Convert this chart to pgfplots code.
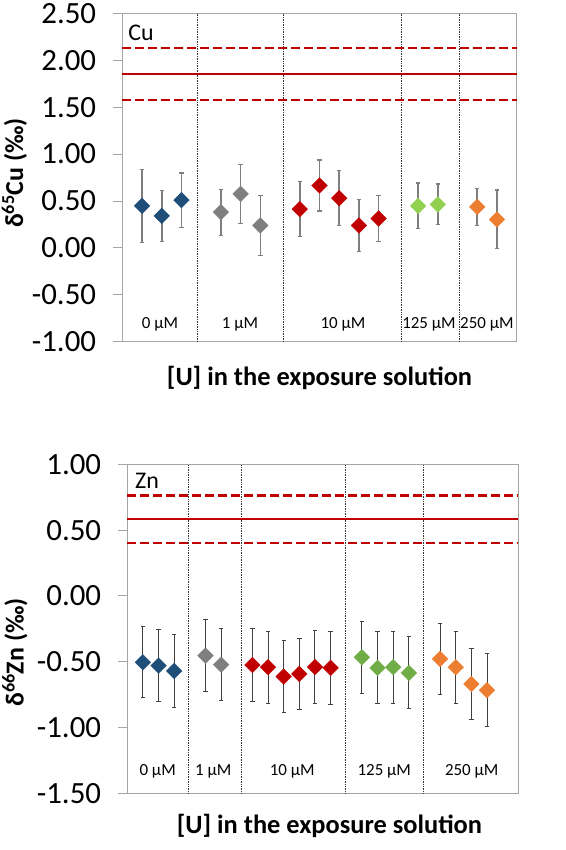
\documentclass[border=0pt]{standalone}
\usepackage{fontspec}
\setmainfont{Carlito}
\usepackage{pgfplots}
\pgfplotsset{compat=1.18}
\usepackage{pgfplotstable}
\definecolor{cblue}{HTML}{1F4E79}
\definecolor{cgray}{HTML}{7F7F7F}
\definecolor{cred}{HTML}{C00000}
\definecolor{cgreenA}{HTML}{92D050}
\definecolor{cgreenB}{HTML}{70AD47}
\definecolor{corange}{HTML}{ED7D31}
\definecolor{axgray}{HTML}{A6A6A6}
\definecolor{refred}{HTML}{C00000}

\pgfplotstableread{
x y e
1 0.448 0.390
2 0.341 0.270
3 0.509 0.290
}\cuA
\pgfplotstableread{
x y e
5 0.381 0.245
6 0.576 0.316
7 0.239 0.316
}\cuB
\pgfplotstableread{
x y e
9 0.413 0.293
10 0.665 0.272
11 0.530 0.295
12 0.239 0.279
13 0.313 0.245
}\cuC
\pgfplotstableread{
x y e
15 0.448 0.243
16 0.463 0.217
}\cuD
\pgfplotstableread{
x y e
18 0.437 0.199
19 0.303 0.313
}\cuE

\pgfplotstableread{
x y e
1 -0.505 0.270
2 -0.530 0.272
3 -0.570 0.275
}\znA
\pgfplotstableread{
x y e
5 -0.454 0.273
6 -0.522 0.272
}\znB
\pgfplotstableread{
x y e
8 -0.525 0.275
9 -0.542 0.275
10 -0.613 0.274
11 -0.593 0.272
12 -0.540 0.274
13 -0.547 0.279
}\znC
\pgfplotstableread{
x y e
15 -0.466 0.273
16 -0.547 0.274
17 -0.542 0.273
18 -0.585 0.273
}\znD
\pgfplotstableread{
x y e
20 -0.479 0.271
21 -0.542 0.272
22 -0.669 0.271
23 -0.717 0.277
}\znE

\tikzset{catlab/.style={font=\fontsize{17}{17}\selectfont, anchor=center},
  ylab/.style={font=\fontsize{26}{26}\selectfont\bfseries, rotate=90, anchor=center, inner sep=0pt}}
\pgfplotsset{
  panel/.style={
    anchor=south west, scale only axis,
    xtick=\empty, ytick pos=left, tick align=outside,
    major tick length=9bp,
    axis line style={draw=axgray, line width=0.9bp},
    every tick/.style={draw=axgray, line width=0.9bp},
    yticklabel style={font=\fontsize{31}{31}\selectfont, anchor=east, inner sep=0pt, xshift=-17bp},
    xlabel style={font=\fontsize{26.5}{26.5}\selectfont\bfseries, at={(axis description cs:0.5,0)}, anchor=center},
    clip=false,
  },
  pts/.style={only marks, mark=square*, mark size=5.6bp,
    mark options={rotate=45, fill=#1, draw=#1, line width=0.2bp},
    error bars/y dir=both, error bars/y explicit},
  errtop/.style={error bars/error bar style={draw=cgray, line width=1.6bp},
    error bars/error mark options={rotate=90, draw=cgray, mark size=2.2bp, line width=1.2bp}},
  errbot/.style={error bars/error bar style={draw=black!75, line width=1bp},
    error bars/error mark options={rotate=90, draw=black!75, mark size=2.2bp, line width=1bp}},
  sep/.style={densely dotted, black!80, line width=0.7bp},
}

\begin{document}
\begin{tikzpicture}
\useasboundingbox (0,0) rectangle (566bp,-850bp);

% ---------------- Cu panel ----------------
\begin{axis}[panel,
  at={(122.3bp,-341.7bp)}, width=394.4bp, height=328.4bp,
  xmin=0, xmax=20, ymin=-1, ymax=2.5,
  ytick={-1,-0.5,0,0.5,1,1.5,2,2.5},
  yticklabels={-1.00,-0.50,0.00,0.50,1.00,1.50,2.00,2.50},
  xlabel={[U] in the exposure solution},
  xlabel style={yshift=-36bp},
]
\addplot[sep] coordinates {(3.80,-1) (3.80,2.5)};
\addplot[sep] coordinates {(8.18,-1) (8.18,2.5)};
\addplot[sep] coordinates {(14.13,-1) (14.13,2.5)};
\addplot[sep] coordinates {(17.09,-1) (17.09,2.5)};
\addplot[refred, line width=2.6bp, dash pattern=on 9bp off 4bp] coordinates {(0,2.13) (20,2.13)};
\addplot[refred, line width=2.6bp, dash pattern=on 9bp off 4bp] coordinates {(0,1.575) (20,1.575)};
\addplot[refred, line width=2bp] coordinates {(0,1.855) (20,1.855)};
\addplot[pts=cblue, errtop] table[x=x, y=y, y error=e] {\cuA};
\addplot[pts=cgray, errtop] table[x=x, y=y, y error=e] {\cuB};
\addplot[pts=cred, errtop] table[x=x, y=y, y error=e] {\cuC};
\addplot[pts=cgreenA, errtop] table[x=x, y=y, y error=e] {\cuD};
\addplot[pts=corange, errtop] table[x=x, y=y, y error=e] {\cuE};
\node[anchor=west, font=\fontsize{24}{24}\selectfont, inner sep=0pt] at (axis cs:0.30,2.294) {Cu};
\node[catlab] at (axis cs:1.91,-0.817) {0 µM};
\node[catlab] at (axis cs:5.97,-0.817) {1 µM};
\node[catlab] at (axis cs:11.19,-0.817) {10 µM};
\node[catlab] at (axis cs:15.55,-0.817) {125 µM};
\node[catlab] at (axis cs:18.49,-0.817) {250 µM};
\node[ylab] at (axis description cs:-0.2733,0.5135) {δ\textsuperscript{65}Cu (‰)};
\end{axis}

% ---------------- Zn panel ----------------
\begin{axis}[panel,
  at={(127.3bp,-793.3bp)}, width=391bp, height=329bp,
  xmin=0, xmax=25, ymin=-1.5, ymax=1,
  ytick={-1.5,-1,-0.5,0,0.5,1},
  yticklabels={-1.50,-1.00,-0.50,0.00,0.50,1.00},
  xlabel={[U] in the exposure solution},
  xlabel style={at={(axis description cs:0.517,0)}, yshift=-32.4bp},
]
\addplot[sep] coordinates {(3.90,-1.5) (3.90,1)};
\addplot[sep] coordinates {(7.27,-1.5) (7.27,1)};
\addplot[sep] coordinates {(13.92,-1.5) (13.92,1)};
\addplot[sep] coordinates {(18.95,-1.5) (18.95,1)};
\addplot[refred, line width=2.6bp, dash pattern=on 9bp off 4bp] coordinates {(0,0.765) (25,0.765)};
\addplot[refred, line width=2.6bp, dash pattern=on 9bp off 4bp] coordinates {(0,0.403) (25,0.403)};
\addplot[refred, line width=2bp] coordinates {(0,0.585) (25,0.585)};
\addplot[pts=cblue, errbot] table[x=x, y=y, y error=e] {\znA};
\addplot[pts=cgray, errbot] table[x=x, y=y, y error=e] {\znB};
\addplot[pts=cred, errbot] table[x=x, y=y, y error=e] {\znC};
\addplot[pts=cgreenB, errbot] table[x=x, y=y, y error=e] {\znD};
\addplot[pts=corange, errbot] table[x=x, y=y, y error=e] {\znE};
\node[anchor=west, font=\fontsize{24}{24}\selectfont, inner sep=0pt] at (axis cs:0.49,0.871) {Zn};
\node[catlab] at (axis cs:1.94,-1.337) {0 µM};
\node[catlab] at (axis cs:5.50,-1.337) {1 µM};
\node[catlab] at (axis cs:10.55,-1.337) {10 µM};
\node[catlab] at (axis cs:16.43,-1.337) {125 µM};
\node[catlab] at (axis cs:22.02,-1.337) {250 µM};
\node[ylab] at (axis description cs:-0.2872,0.428) {δ\textsuperscript{66}Zn (‰)};
\end{axis}
\end{tikzpicture}
\end{document}
